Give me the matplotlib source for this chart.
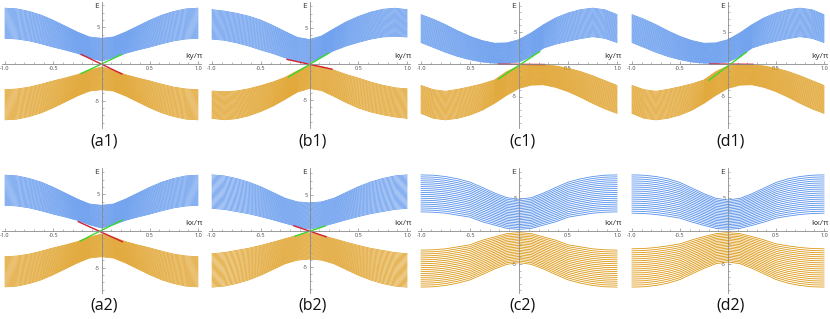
import matplotlib.pyplot as plt
import numpy as np
import matplotlib.ticker as ticker

plt.rcParams['font.family'] = ['Open Sans', 'DejaVu Sans']

W, H = 830, 319
blue = "#5590ec"
orange = "#dd9814"
red = "#d11f35"
green = "#3ad82a"

k = [-1, -0.875, -0.75, -0.625, -0.5, -0.375, -0.25, -0.125, 0,
     0.125, 0.25, 0.375, 0.5, 0.625, 0.75, 0.875, 1]

# (a1) / (a2)
a_blue_out = [7.6, 7.5, 7.15, 6.65, 5.95, 5.15, 4.35, 3.68, 3.5, 3.68, 4.35, 5.15, 5.95, 6.65, 7.15, 7.5, 7.6]
a_blue_in = [3.5, 3.4, 3.15, 2.75, 2.3, 1.9, 1.45, 0.85, 0.4, 0.85, 1.45, 1.9, 2.3, 2.75, 3.15, 3.4, 3.5]
a_orange_in = [-3.5, -3.4, -3.15, -2.75, -2.3, -1.9, -1.45, -0.85, -0.4, -0.85, -1.45, -1.9, -2.3, -2.75, -3.15, -3.4, -3.5]
a_orange_out = [-7.6, -7.5, -7.15, -6.65, -5.95, -5.15, -4.35, -3.68, -3.5, -3.68, -4.35, -5.15, -5.95, -6.65, -7.15, -7.5, -7.6]

# (b1)
b1_blue_out = [7.55, 7.35, 7.05, 6.65, 6.1, 5.35, 4.5, 3.7, 3.4, 3.9, 4.9, 5.85, 6.6, 7.2, 7.6, 7.75, 7.55]
b1_blue_in = [3.45, 3.3, 2.95, 2.5, 1.95, 1.45, 0.85, 0.35, 0.15, 0.95, 1.85, 2.5, 3.0, 3.45, 3.75, 3.85, 3.75]
b1_orange_in = [-3.75, -3.85, -3.75, -3.45, -3.0, -2.5, -1.85, -0.95, -0.15, -0.35, -0.85, -1.45, -1.95, -2.5, -2.95, -3.3, -3.45]
b1_orange_out = [-7.55, -7.75, -7.6, -7.2, -6.6, -5.85, -4.9, -3.9, -3.4, -3.7, -4.5, -5.35, -6.1, -6.65, -7.05, -7.35, -7.55]

# (c1) / (d1)
c1_blue_out = [7.6, 6.9, 6.05, 5.1, 4.25, 3.6, 3.2, 3.25, 3.75, 4.8, 6.05, 7.1, 7.85, 8.35, 8.6, 8.35, 7.6]
c1_blue_in = [3.3, 2.55, 1.8, 1.15, 0.66, 0.3, 0.12, 0.1, 0.3, 1.15, 2.45, 3.05, 3.5, 3.9, 4.2, 3.95, 3.3]
c1_orange_in = [-3.3, -3.95, -4.2, -3.9, -3.5, -3.05, -2.45, -1.15, -0.3, -0.1, -0.12, -0.3, -0.66, -1.15, -1.8, -2.55, -3.3]
c1_orange_out = [-7.6, -8.35, -8.6, -8.35, -7.85, -7.1, -6.05, -4.8, -3.75, -3.25, -3.2, -3.6, -4.25, -5.1, -6.05, -6.9, -7.6]

# (b2)
b2_blue_out = [7.8, 7.65, 7.3, 6.8, 6.15, 5.35, 4.55, 4.05, 3.9, 4.05, 4.55, 5.35, 6.15, 6.8, 7.3, 7.65, 7.8]
b2_blue_in = [3.15, 3.0, 2.7, 2.4, 2.0, 1.55, 1.07, 0.6, 0.25, 0.6, 1.07, 1.55, 2.0, 2.4, 2.7, 3.0, 3.15]
b2_orange_in = [-3.15, -3.0, -2.7, -2.4, -2.0, -1.55, -1.07, -0.6, -0.25, -0.6, -1.07, -1.55, -2.0, -2.4, -2.7, -3.0, -3.15]
b2_orange_out = [-7.8, -7.65, -7.3, -6.8, -6.15, -5.35, -4.55, -4.05, -3.9, -4.05, -4.55, -5.35, -6.15, -6.8, -7.3, -7.65, -7.8]

# (c2)
c2_blue_out = [8.5, 8.45, 8.25, 7.9, 7.4, 6.6, 5.75, 5.05, 4.8, 5.05, 5.75, 6.6, 7.4, 7.9, 8.25, 8.45, 8.5]
c2_blue_in = [2.9, 2.85, 2.7, 2.4, 2.1, 1.4, 0.9, 0.4, 0.25, 0.4, 0.9, 1.4, 2.1, 2.4, 2.7, 2.85, 2.9]
c2_orange_in = [-2.9, -2.85, -2.7, -2.4, -2.1, -1.4, -0.9, -0.4, -0.25, -0.4, -0.9, -1.4, -2.1, -2.4, -2.7, -2.85, -2.9]
c2_orange_out = [-8.5, -8.45, -8.25, -7.9, -7.4, -6.6, -5.75, -5.05, -4.8, -5.05, -5.75, -6.6, -7.4, -7.9, -8.25, -8.45, -8.5]

# (d2)
d2_blue_out = [8.5, 8.45, 8.25, 7.9, 7.35, 6.5, 5.65, 4.95, 4.7, 4.95, 5.65, 6.5, 7.35, 7.9, 8.25, 8.45, 8.5]
d2_blue_in = [2.7, 2.65, 2.5, 2.25, 1.95, 1.35, 0.85, 0.4, 0.25, 0.4, 0.85, 1.35, 1.95, 2.25, 2.5, 2.65, 2.7]
d2_orange_in = [-2.7, -2.65, -2.5, -2.25, -1.95, -1.35, -0.85, -0.4, -0.25, -0.4, -0.85, -1.35, -1.95, -2.25, -2.5, -2.65, -2.7]
d2_orange_out = [-8.5, -8.45, -8.25, -7.9, -7.35, -6.5, -5.65, -4.95, -4.7, -4.95, -5.65, -6.5, -7.35, -7.9, -8.25, -8.45, -8.5]

# edge states: (k start, k end), (E start, E end)
a1_red = ([-0.21, 0.21], [1.3, -1.35])
a1_green = ([-0.21, 0.21], [-1.3, 1.3])
b1_red = ([-0.23, 0.23], [0.63, -0.72])
b1_green = ([-0.215, 0.195], [-1.8, 1.5])
c1_red = ([-0.21, 0.26], [-0.03, -0.08])
c1_green = ([-0.21, 0.21], [-2.3, 1.9])
d1_red = ([-0.19, 0.26], [0.0, -0.05])
d1_green = ([-0.2, 0.19], [-2.5, 1.8])
a2_red = ([-0.24, 0.215], [1.27, -1.45])
a2_green = ([-0.22, 0.215], [-1.36, 1.5])
b2_red = ([-0.16, 0.17], [0.72, -0.8])
b2_green = ([-0.15, 0.16], [-0.72, 0.7])

labels = ["(a1)", "(b1)", "(c1)", "(d1)", "(a2)", "(b2)", "(c2)", "(d2)"]
bands = [
    (a_blue_out, a_blue_in, a_orange_in, a_orange_out),
    (b1_blue_out, b1_blue_in, b1_orange_in, b1_orange_out),
    (c1_blue_out, c1_blue_in, c1_orange_in, c1_orange_out),
    (c1_blue_out, c1_blue_in, c1_orange_in, c1_orange_out),
    (a_blue_out, a_blue_in, a_orange_in, a_orange_out),
    (b2_blue_out, b2_blue_in, b2_orange_in, b2_orange_out),
    (c2_blue_out, c2_blue_in, c2_orange_in, c2_orange_out),
    (d2_blue_out, d2_blue_in, d2_orange_in, d2_orange_out),
]
edges = [(a1_red, a1_green), (b1_red, b1_green), (c1_red, c1_green), (d1_red, d1_green),
         (a2_red, a2_green), (b2_red, b2_green), None, None]
n_lines = [32, 32, 32, 32, 32, 32, 20, 20]
line_w = [0.5, 0.5, 0.5, 0.5, 0.5, 0.5, 0.6, 0.6]

# layout (pixels)
lefts = [2.1, 209.1, 418.1, 629.1]
widths = [198.8, 200.9, 201.9, 197.8]
rows = [(2, 128, 64, 142), (168, 293, 231, 306)]   # top, bottom, zero line, label y
px_per_unit = [7.35, 7.2, 6.5, 6.5, 7.35, 7.2, 6.6, 6.6]

fig = plt.figure(figsize=(W / 100, H / 100), dpi=100)

for i in range(8):
    r, c = divmod(i, 4)
    top, bottom, zero, label_y = rows[r]
    ax = fig.add_axes([lefts[c] / W, 1 - bottom / H, widths[c] / W, (bottom - top) / H])
    s = px_per_unit[i]
    ax.set_xlim(-1.03, 1.03)
    ax.set_ylim(-(bottom - zero) / s, (zero - top) / s)

    b_out, b_in, o_in, o_out = [np.array(v) for v in bands[i]]
    n = n_lines[i]
    for j in range(n):
        f = j / (n - 1)
        ax.plot(k, b_in + f * (b_out - b_in), color=blue, lw=line_w[i])
        ax.plot(k, o_in + f * (o_out - o_in), color=orange, lw=line_w[i])

    if edges[i] is not None:
        (rk, rE), (gk, gE) = edges[i]
        ax.plot(rk, rE, color=red, lw=1.0, zorder=3)
        ax.plot(gk, gE, color=green, lw=1.0, zorder=3)

    # Mathematica style axes through the origin
    for side in ["top", "right"]:
        ax.spines[side].set_visible(False)
    for side in ["left", "bottom"]:
        ax.spines[side].set_position(("data", 0))
        ax.spines[side].set_color("#8a8a8a")
        ax.spines[side].set_linewidth(0.6)
        ax.spines[side].set_zorder(4)
    ax.patch.set_visible(False)

    ax.xaxis.set_major_locator(ticker.FixedLocator([-1, -0.5, 0.5, 1]))
    ax.xaxis.set_major_formatter(ticker.FixedFormatter(["-1.0", "-0.5", "0.5", "1.0"]))
    ax.xaxis.set_minor_locator(ticker.MultipleLocator(0.1))
    ax.yaxis.set_major_locator(ticker.FixedLocator([-5, 5]))
    ax.yaxis.set_major_formatter(ticker.FixedFormatter(["-5", "5"]))
    ax.yaxis.set_minor_locator(ticker.MultipleLocator(1))
    ax.tick_params(which="major", direction="in", length=2.2, width=0.5, color="#8a8a8a",
                   labelsize=4, labelcolor="#444444", pad=1.5)
    ax.tick_params(which="minor", direction="in", length=1.2, width=0.4, color="#8a8a8a")

    ax.annotate("E", xy=(0, ax.get_ylim()[1]), xytext=(-3, -1), textcoords="offset pixels",
                ha="right", va="top", fontsize=6, color="#333333")
    ax.annotate("ky/π" if r == 0 else "kx/π", xy=(1.03, 0), xytext=(2, 4),
                textcoords="offset pixels", ha="right", va="bottom", fontsize=6, color="#333333")

    fig.text((lefts[c] + widths[c] / 2 + 3) / W, 1 - label_y / H, labels[i],
             ha="center", va="center", fontsize=11.5, color="#111111")

fig.savefig("out.png", dpi=100)
